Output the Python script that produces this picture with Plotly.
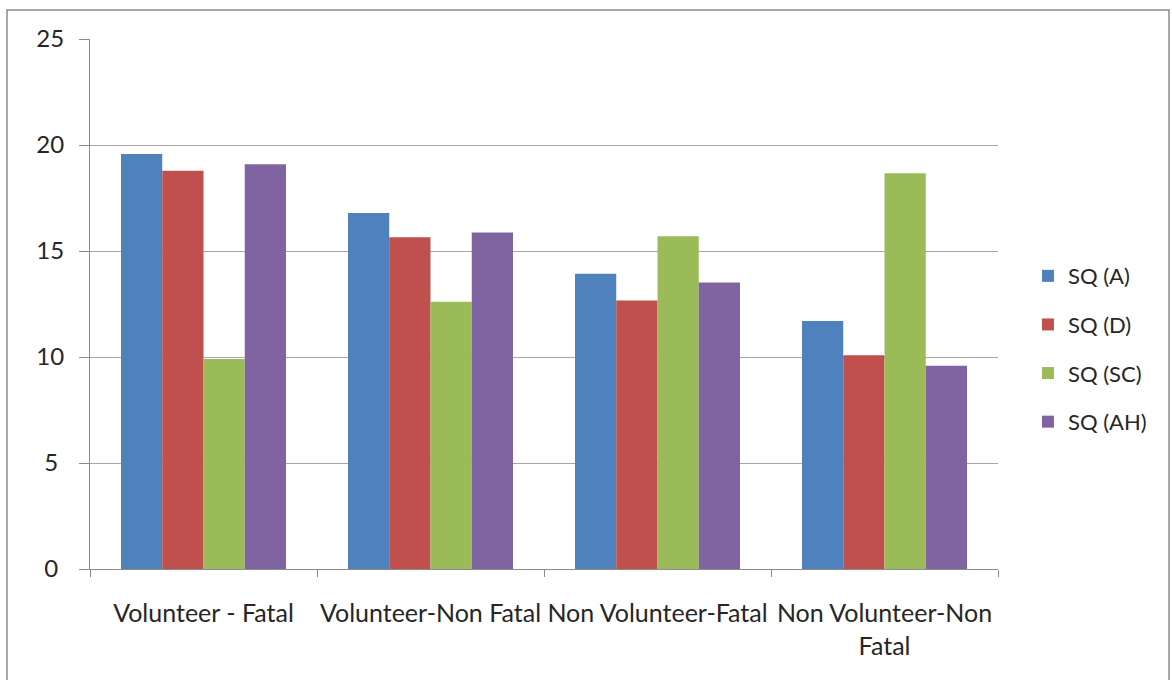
import plotly.graph_objects as go

categories = ["Volunteer - Fatal", "Volunteer-Non Fatal", "Non Volunteer-Fatal", "Non Volunteer-Non<br>Fatal"]
series_names = ["SQ (A)", "SQ (D)", "SQ (SC)", "SQ (AH)"]
sq_a = [19.58, 16.79, 13.93, 11.70]
sq_d = [18.79, 15.65, 12.66, 10.08]
sq_sc = [9.91, 12.61, 15.69, 18.67]
sq_ah = [19.09, 15.87, 13.51, 9.59]
colors = ["#4F81BD", "#C0504D", "#9BBB59", "#8064A2"]
y_ticks = [0, 5, 10, 15, 20, 25]
y_ticktext = ["0\u2005", "5\u2005", "10", "15", "20", "25"]

W, H = 1172, 680
L, R, T, B = 90, 1172 - 998, 39, 680 - 569
pw, ph = W - L - R, H - T - B

fig = go.Figure()
for i, (name, vals) in enumerate(zip(series_names, [sq_a, sq_d, sq_sc, sq_ah])):
    fig.add_trace(go.Bar(x=categories, y=vals, name=name, marker_color=colors[i],
                         marker_line_width=0, legendgroup=name))

txt = "#262626"
fig.update_layout(
    width=W, height=H,
    margin=dict(l=L, r=R, t=T, b=B),
    paper_bgcolor="white", plot_bgcolor="white",
    barmode="group", bargap=0.273, bargroupgap=0,
    font=dict(family="Lato, sans-serif", size=22, color=txt),
    showlegend=True,
    legend=dict(x=1.033, y=0.415, xanchor="left", yanchor="middle",
                font=dict(family="Lato, sans-serif", size=22, color=txt),
                tracegroupgap=17, traceorder="grouped", itemwidth=30),
    xaxis=dict(type="category", tickson="boundaries", ticks="outside", ticklen=7,
               tickcolor="#8c8c8c", showline=True, linecolor="#8c8c8c", linewidth=1,
               showgrid=False, ticklabelstandoff=22, tickangle=0,
               tickfont=dict(family="Lato, sans-serif", size=25, color=txt)),
    yaxis=dict(range=[0, 25], tickvals=y_ticks, ticktext=y_ticktext, ticks="outside", ticklen=10,
               tickcolor="#8c8c8c", showline=True, linecolor="#8c8c8c", linewidth=1,
               gridcolor="#a6a6a6", gridwidth=1, zeroline=False, ticklabelstandoff=10,
               tickfont=dict(family="Lato, sans-serif", size=24, color=txt)),
)

# outer chart frame
fig.add_shape(type="rect", xref="paper", yref="paper",
              x0=(7 - L) / pw, x1=(1169 - L) / pw,
              y0=(T + ph - 700) / ph, y1=(T + ph - 10) / ph,
              line=dict(color="#8c8c8c", width=1.5), fillcolor="rgba(0,0,0,0)", layer="below")

fig.write_html("out.html")
